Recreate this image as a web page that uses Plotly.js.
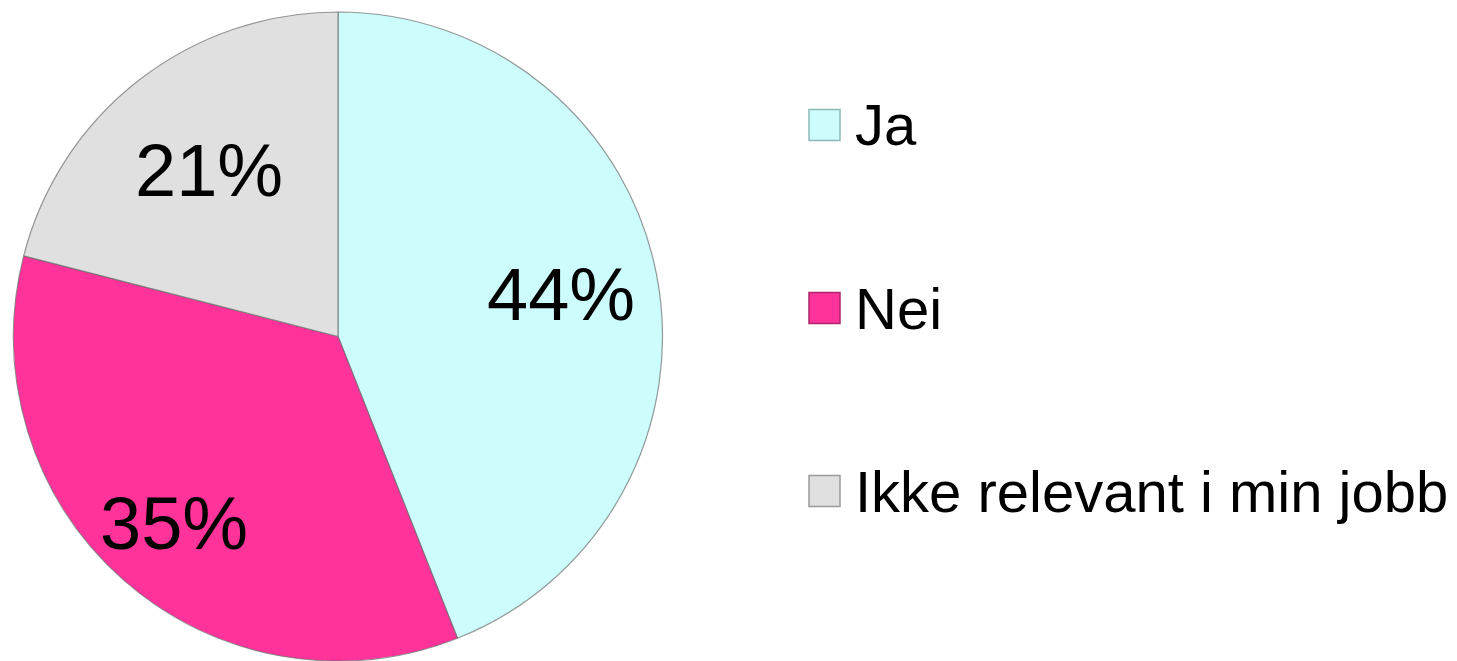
<!DOCTYPE html>
<html>
<head>
<meta charset="utf-8">
<script src="https://cdn.plot.ly/plotly-3.0.1.min.js"></script>
<style>html,body{margin:0;padding:0;background:#fff;}#chart{width:1457px;height:661px;}</style>
</head>
<body>
<div id="chart"></div>
<script>
var categories = ["Ja", "Nei", "Ikke relevant i min jobb"];
var values = [44, 35, 21];
var colors = ["#ccfcfc", "#ff3399", "#e0e0e0"];
var borderColors = ["#8fb8b8", "#b0246c", "#9a9a9a"];

var W = 1457, H = 661;
var FONT = "Liberation Sans, Arial, sans-serif";

// pie geometry (pixels)
var pieLeft = 13, pieRight = 663, pieTop = 12;
var cx = (pieLeft + pieRight) / 2;
var R = (pieRight - pieLeft) / 2;
var cy = pieTop + R;
// label distance from the centre, as a fraction of the radius (layout option, per slice)
var labelRadius = [0.70, 0.765, 0.65];

var trace = {
  type: "pie",
  labels: categories,
  values: values,
  sort: false,
  direction: "clockwise",
  rotation: 0,
  marker: { colors: colors, line: { color: "rgba(110,110,110,0.7)", width: 1.2 } },
  textinfo: "none",
  hoverinfo: "label+percent",
  showlegend: false,
  domain: { x: [pieLeft / W, pieRight / W], y: [1 - (pieTop + 2 * R) / H, 1 - pieTop / H] }
};

var shapes = [], annotations = [];

// percent labels placed at each slice's mid-angle, computed from the values
var total = values.reduce(function (a, b) { return a + b; }, 0);
var cum = 0;
values.forEach(function (v, i) {
  var mid = (cum + v / 2) / total * 2 * Math.PI; // clockwise from 12 o'clock
  cum += v;
  var r = R * labelRadius[i];
  var px = cx + r * Math.sin(mid);
  var py = cy - r * Math.cos(mid);
  annotations.push({
    xref: "paper", yref: "paper", x: px / W, y: 1 - py / H,
    xanchor: "center", yanchor: "middle", showarrow: false,
    text: Math.round(v / total * 100) + "%",
    font: { family: FONT, size: 74, color: "#000" }
  });
});

// legend drawn as annotations + square shapes, built from the category arrays
var legendLeft = 809, legendSize = 31, legendTop = 125, legendStep = 183, textLeft = 853;
categories.forEach(function (c, i) {
  var ly = legendTop + i * legendStep;
  shapes.push({
    type: "rect", xref: "paper", yref: "paper",
    x0: legendLeft / W, x1: (legendLeft + legendSize) / W,
    y0: 1 - (ly + legendSize / 2) / H, y1: 1 - (ly - legendSize / 2) / H,
    fillcolor: colors[i], line: { color: borderColors[i], width: 1.5 }
  });
  annotations.push({
    xref: "paper", yref: "paper", x: textLeft / W, y: 1 - ly / H,
    xanchor: "left", yanchor: "middle", showarrow: false,
    text: c, font: { family: FONT, size: 58, color: "#000" }
  });
});

var layout = {
  width: W, height: H,
  margin: { l: 0, r: 0, t: 0, b: 0 },
  paper_bgcolor: "#fff",
  showlegend: false,
  shapes: shapes,
  annotations: annotations
};

Plotly.newPlot("chart", [trace], layout, { displayModeBar: false, staticPlot: true });
</script>
</body>
</html>
